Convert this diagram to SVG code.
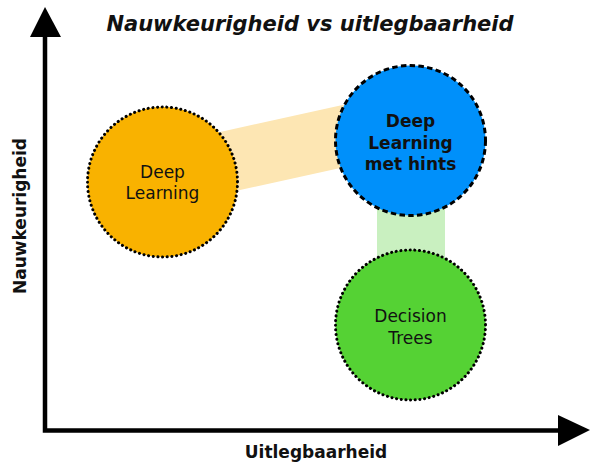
<svg xmlns="http://www.w3.org/2000/svg" width="592" height="472" viewBox="0 0 592 472">
<style>
text{font-family:"DejaVu Sans","Liberation Sans",sans-serif;fill:#111;text-anchor:middle}
.lbl{font-size:17px}
.b{font-weight:bold}
.dot{stroke:#000;stroke-width:3;stroke-dasharray:0.1 4.6;stroke-linecap:round}
.dash{stroke:#000;stroke-width:3;stroke-dasharray:5.5 3.3}
.axis{stroke:#000;stroke-width:4.5;fill:none}
</style>
<rect width="592" height="472" fill="#fff"/>
<text x="310" y="31" class="b" font-size="21" font-style="italic">Nauwkeurigheid vs uitlegbaarheid</text>
<g id="axes">
<path class="axis" d="M45,36 V430.5 H559"/>
<polygon points="45,7 30,37 61,37"/>
<polygon points="590,430 558,415 558,446"/>
<text x="316" y="458" class="lbl b">Uitlegbaarheid</text>
<text transform="translate(26,216) rotate(-90)" class="lbl b">Nauwkeurigheid</text>
</g>
<g id="connectors">
<polygon points="200,136.4 380,96.8 380,159.2 200,198.8" fill="#fde6b3"/>
<rect x="377" y="190" width="68" height="80" fill="#c9f0c0"/>
</g>
<g id="deep-learning">
<circle cx="162.5" cy="182" r="75" fill="#f9b200" class="dot"/>
<text x="162.5" y="178" class="lbl">Deep</text>
<text x="162.5" y="199" class="lbl">Learning</text>
</g>
<g id="deep-learning-hints">
<circle cx="410.5" cy="140.5" r="75" fill="#0090fa" class="dash"/>
<text x="410.5" y="127" class="lbl b">Deep</text>
<text x="410.5" y="149" class="lbl b">Learning</text>
<text x="410.5" y="170" class="lbl b">met hints</text>
</g>
<g id="decision-trees">
<circle cx="410.5" cy="325" r="75" fill="#55d234" class="dot"/>
<text x="410.5" y="322" class="lbl">Decision</text>
<text x="410.5" y="344" class="lbl">Trees</text>
</g>
</svg>
